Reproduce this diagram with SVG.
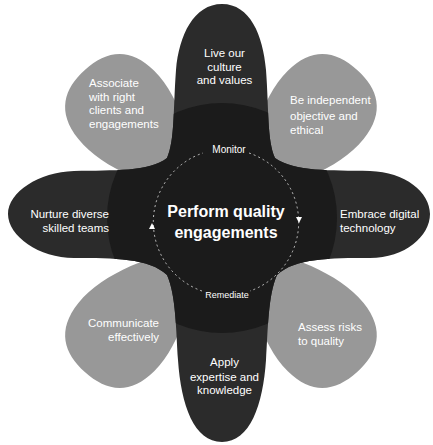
<svg xmlns="http://www.w3.org/2000/svg" width="433" height="445" viewBox="0 0 433 445">
<defs>
<style>
.lbl{font-family:"Liberation Sans",Arial,sans-serif;font-size:11.5px;fill:#ffffff}
.ttl{font-family:"Liberation Sans",Arial,sans-serif;font-size:16px;font-weight:bold;fill:#ffffff}
.sm{font-family:"Liberation Sans",Arial,sans-serif;fill:#ffffff}
.petal{fill:#989898}
.cyc{fill:none;stroke:#ffffff;stroke-opacity:0.7;stroke-width:1;stroke-dasharray:2 3}
.arr{fill:#ffffff}
</style>
<path id="petalShape" d="M 0,-30 C -28,-70 -53,-115 -51,-155 C -49,-190 -28,-202 0,-202 C 28,-202 49,-190 51,-155 C 53,-115 28,-70 0,-30 Z"/>
<path id="starShape" d="M 222,4 C 250,4 263,35 266,70 C 269,110 267,140 275,158 C 295,172 330,170 370,171 C 405,172 430,192 430,214 C 430,236 405,258 370,258 C 330,258 295,258 277,275 C 268,295 268,330 266,360 C 263,405 250,442 222,442 C 194,442 181,405 178,360 C 176,330 176,295 167,275 C 149,258 114,258 74,258 C 39,258 8,236 8,214 C 8,192 39,172 74,171 C 114,170 149,172 167,158 C 175,140 173,110 176,70 C 179,35 194,4 222,4 Z"/>
<clipPath id="starClip"><use href="#starShape"/></clipPath>
</defs>
<rect width="433" height="445" fill="#ffffff"/>

<g id="petal-associate">
<use href="#petalShape" class="petal" transform="translate(220,220) rotate(-42)"/>
<text class="lbl" x="89" y="87">Associate</text>
<text class="lbl" x="89" y="101">with right</text>
<text class="lbl" x="89" y="114">clients and</text>
<text class="lbl" x="89" y="128">engagements</text>
</g>
<g id="petal-independent">
<use href="#petalShape" class="petal" transform="translate(222,220) rotate(42)"/>
<text class="lbl" x="290" y="104">Be independent</text>
<text class="lbl" x="290" y="120">objective and</text>
<text class="lbl" x="290" y="134">ethical</text>
</g>
<g id="petal-communicate">
<use href="#petalShape" class="petal" transform="translate(220,222) rotate(-138)"/>
<text class="lbl" x="159" y="327" text-anchor="end">Communicate</text>
<text class="lbl" x="159" y="341" text-anchor="end">effectively</text>
</g>
<g id="petal-assess">
<use href="#petalShape" class="petal" transform="translate(222,222) rotate(138)"/>
<text class="lbl" x="298" y="331">Assess risks</text>
<text class="lbl" x="298" y="345">to quality</text>
</g>

<g id="star">
<use href="#starShape" fill="#2b2b2b"/>
<circle cx="222" cy="218" r="115" fill="#1b1b1b" clip-path="url(#starClip)"/>
</g>

<g id="lobe-culture">
<text class="lbl" x="224.5" y="57" text-anchor="middle">Live our</text>
<text class="lbl" x="224.5" y="70.5" text-anchor="middle">culture</text>
<text class="lbl" x="224.5" y="84" text-anchor="middle">and values</text>
</g>
<g id="lobe-digital">
<text class="lbl" x="340" y="218">Embrace digital</text>
<text class="lbl" x="340" y="232">technology</text>
</g>
<g id="lobe-expertise">
<text class="lbl" x="224.5" y="366" text-anchor="middle">Apply</text>
<text class="lbl" x="224.5" y="381" text-anchor="middle">expertise and</text>
<text class="lbl" x="224.5" y="394" text-anchor="middle">knowledge</text>
</g>
<g id="lobe-teams">
<text class="lbl" x="109" y="218" text-anchor="end">Nurture diverse</text>
<text class="lbl" x="109" y="232" text-anchor="end">skilled teams</text>
</g>

<g id="center">
<text class="ttl" x="226" y="217" text-anchor="middle">Perform quality</text>
<text class="ttl" x="226" y="238" text-anchor="middle">engagements</text>
</g>

<g id="connectors">
<path class="cyc" d="M 249,153 A 73 73 0 0 1 250,291"/>
<path class="cyc" d="M 202,291 A 73 73 0 0 1 203,153"/>
<polygon class="arr" points="149,229 155,229 152,223"/>
<polygon class="arr" points="296,217 302,217 299,223"/>
<text class="sm" x="229" y="153" font-size="10" text-anchor="middle">Monitor</text>
<text class="sm" x="227" y="298" font-size="9" text-anchor="middle">Remediate</text>
</g>
</svg>
